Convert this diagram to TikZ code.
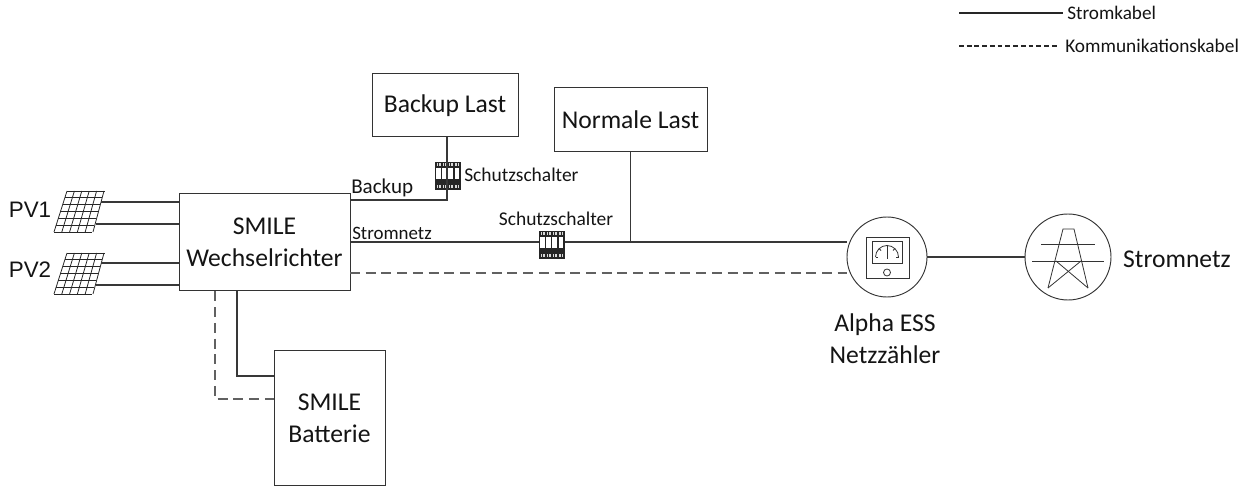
\documentclass[tikz,border=0pt]{standalone}
\usepackage{fontspec}
\setmainfont{Carlito}
\newfontfamily\arialf{Liberation Sans}
\begin{document}
\begin{tikzpicture}[x=0.75pt,y=-0.75pt,
  wire/.style={line width=0.8pt,draw=black!78},
  comm/.style={line width=0.8pt,draw=black!62,dash pattern=on 7.5pt off 4.3pt},
  box/.style={draw=black!80,line width=0.75pt,fill=white,inner sep=0pt,align=center,text=black!92},
  lbl/.style={inner sep=0pt,align=center,text=black!92},
  grid/.style={line width=0.6pt,draw=black!85},
  symb/.style={line width=0.6pt,draw=black!80}]
\useasboundingbox (0,0) rectangle (1247,488);
\newcommand{\panel}[1]{%
  \begin{scope}[shift={(54,#1)}]
    \foreach \i in {0,...,5} {\draw[grid] ({13+\i*7.4},0) -- ({\i*7.8},41);}
    \foreach \j in {0,...,6} {\draw[grid] ({13*(1-\j/6)},{\j*41/6}) -- ({13*(1-\j/6)+37.5},{\j*41/6});}
  \end{scope}}
\newcommand{\breakr}[2]{%
  \begin{scope}[shift={(#1,#2)}]
    \fill[black!85] (0,0) rectangle (25.5,28.5);
    \foreach \k in {0,...,3} {
      \fill[white] ({1+\k*6.2},6) rectangle ({5.8+\k*6.2},17);
      \fill[white!85!black] ({1.5+\k*6.2},1.5) rectangle ({3+\k*6.2},4);
      \fill[white!85!black] ({4+\k*6.2},1.5) rectangle ({5.5+\k*6.2},4);
      \fill[white!85!black] ({1.5+\k*6.2},23) rectangle ({3+\k*6.2},26.5);
      \fill[white!85!black] ({4+\k*6.2},23) rectangle ({5.5+\k*6.2},26.5);
    }
  \end{scope}}

% nodes
\node[box,minimum width=146*0.75pt,minimum height=63*0.75pt,font=\fontsize{19.2}{20}\selectfont] (bl) at (445,105.5) {Backup Last};
\node[box,minimum width=153*0.75pt,minimum height=64*0.75pt,font=\fontsize{19.2}{20}\selectfont] (nl) at (630.5,120) {Normale Last};
\node[box,minimum width=171*0.75pt,minimum height=97*0.75pt,font=\fontsize{19.2}{24}\selectfont] (inv) at (264.5,242.5) {SMILE\\Wechselrichter};
\node[box,minimum width=111*0.75pt,minimum height=134*0.75pt,font=\fontsize{19.2}{24}\selectfont] (bat) at (329.5,418) {SMILE\\Batterie};
\node[draw=black!80,line width=0.7pt,circle,minimum size=80*0.75pt,inner sep=0pt] (mt) at (887,257) {};
\node[draw=black!80,line width=0.7pt,circle,minimum size=86*0.75pt,inner sep=0pt] (gr) at (1068,257) {};
\node[lbl,font=\fontsize{19.2}{24}\selectfont] (mtl) at (885,338.5) {Alpha ESS\\Netzzähler};
\node[lbl,font=\fontsize{19.2}{18}\selectfont] (grl) at (1177,259) {Stromnetz};
\node[lbl,font=\arialf\fontsize{16.8}{18}\selectfont] (pv1l) at (30,210) {PV1};
\node[lbl,font=\arialf\fontsize{16.8}{18}\selectfont] (pv2l) at (30,270) {PV2};
\node[lbl,font=\fontsize{15.8}{14}\selectfont,anchor=west] (bkl) at (351,188) {Backup};
\node[lbl,font=\fontsize{14.2}{14}\selectfont,anchor=west] (snl) at (352,233) {Stromnetz};
\node[lbl,font=\fontsize{14.6}{14}\selectfont,anchor=west] (s1) at (464,175) {Schutzschalter};
\node[lbl,font=\fontsize{14.6}{14}\selectfont] (s2) at (556,219) {Schutzschalter};
\node[lbl,font=\fontsize{14.4}{14}\selectfont,anchor=west] (leg1) at (1067,13) {Stromkabel};
\node[lbl,font=\fontsize{14.5}{14}\selectfont,anchor=west] (leg2) at (1065,46) {Kommunikationskabel};

% coordinates
\coordinate (p1a) at (101,202); \coordinate (p1b) at (96,224);
\coordinate (p2a) at (101,263); \coordinate (p2b) at (96,285);
\coordinate (bk) at (447,200);
\coordinate (sn) at (630.5,242);
\coordinate (dy) at (350,273);
\coordinate (bs) at (237,376);
\coordinate (bd) at (215,399);
\coordinate (la) at (959,13); \coordinate (lb) at (959,46);
\coordinate (lae) at (1063,13); \coordinate (lbe) at (1059,46);

% panels
\panel{191}
\panel{253}

% wires
\draw[wire] (p1a) -- (inv.west |- p1a);
\draw[wire] (p1b) -- (inv.west |- p1b);
\draw[wire] (p2a) -- (inv.west |- p2a);
\draw[wire] (p2b) -- (inv.west |- p2b);
\draw[wire] (inv.east |- bk) -- (bk) -- (bl.south -| bk);
\draw[wire] (inv.east |- sn) -- (sn) -- (mt.west |- sn);
\draw[wire] (sn) -- (nl.south -| sn);
\draw[wire] (mt.east) -- (gr.west);
\draw[comm] (dy) -- (mt.west |- dy);
\draw[wire] (inv.south -| bs) -- (bs) -- (bat.west |- bs);
\draw[comm] (inv.south -| bd) -- (bd) -- (bat.west |- bd);
\draw[line width=0.9pt,draw=black!85] (la) -- (lae);
\draw[line width=0.8pt,draw=black!85,dash pattern=on 3.6pt off 2.2pt] (lb) -- (lbe);

% breakers
\breakr{435}{162}
\breakr{539}{231}
\draw[wire] (447,162) -- (447,191);

% meter symbol
\draw[symb] (866,237) rectangle (909,278);
\draw[symb] (872,241.5) rectangle (902,263);
\draw[symb] (875.5,257) arc[start angle=180,end angle=360,radius=11.5];
\draw[symb] (887,245) -- (887,259);
\draw[symb] (875.5,257) -- (878,257) (898.5,257) -- (896,257);
\draw[symb] (879,248.5) -- (881,250.5) (895,248.5) -- (893,250.5);
\draw[symb] (887,272.5) circle[radius=3.5];

% pylon
\draw[symb] (1048,288) -- (1063,229) -- (1074,229) -- (1088,288);
\draw[symb] (1041,244.5) -- (1095,244.5);
\draw[symb] (1032,261) -- (1104,261);
\draw[symb] (1056,261) -- (1088,288);
\draw[symb] (1081,261) -- (1048,288);
\end{tikzpicture}
\end{document}
